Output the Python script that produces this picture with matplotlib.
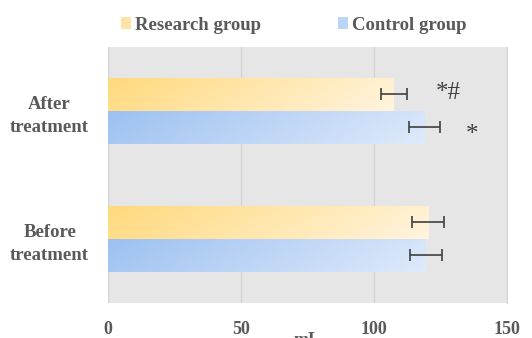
import matplotlib.pyplot as plt
import matplotlib
import numpy as np
from matplotlib.colors import LinearSegmentedColormap
from matplotlib.patches import Patch

matplotlib.rcParams['font.family'] = ['Liberation Serif', 'DejaVu Serif']

categories = ['Before\ntreatment', 'After\ntreatment']
research = [120.4, 107.5]
research_sd = [6.0, 5.0]
control = [119.4, 119.0]
control_sd = [6.0, 5.7]
marks_research = ['', '*#']
marks_control = ['', '*']
xticks = [0, 50, 100, 150]

txt = '#595959'
fig = plt.figure(figsize=(5.32, 3.38), dpi=100)
ax = fig.add_axes([0.203, 0.104, 0.75, 0.757])
ax.set_facecolor('#e6e6e6')

y = np.arange(len(categories))
h = 0.258

cm_res = LinearSegmentedColormap.from_list('res', ['#ffd97c', '#fff4de'])
cm_ctl = LinearSegmentedColormap.from_list('ctl', ['#9cc1f1', '#dfeafb'])

# diagonal gradient, darker at top-left
gx, gy = np.meshgrid(np.linspace(0, 1, 200), np.linspace(0, 1, 40))
grad = 0.85 * gx + 0.15 * gy


def gradient_bars(ypos, vals, cmap):
    bars = ax.barh(ypos, vals, height=h, color='none', edgecolor='none')
    for b in bars:
        x0, y0 = b.get_x(), b.get_y()
        im = ax.imshow(grad, cmap=cmap, aspect='auto', origin='upper',
                       extent=[x0, x0 + b.get_width(), y0, y0 + b.get_height()],
                       zorder=2, vmin=0, vmax=1)
        im.set_clip_path(b)
    return bars


gradient_bars(y + h / 2, research, cm_res)
gradient_bars(y - h / 2, control, cm_ctl)
ax.errorbar(research, y + h / 2, xerr=research_sd, fmt='none', ecolor='#404040',
            elinewidth=1.2, capsize=4, capthick=1.2, zorder=3)
ax.errorbar(control, y - h / 2, xerr=control_sd, fmt='none', ecolor='#404040',
            elinewidth=1.2, capsize=4, capthick=1.2, zorder=3)

for i in range(len(categories)):
    if marks_research[i]:
        ax.text(127.8, y[i] + h / 2 + 0.01, marks_research[i], ha='center', va='center',
                fontsize=18, color='#404040')
    if marks_control[i]:
        ax.text(137.0, y[i] - h / 2 - 0.06, marks_control[i], ha='center', va='center',
                fontsize=18, color='#404040')

ax.set_xlim(0, 150)
ax.set_ylim(-0.5, 1.5)
ax.set_xticks(xticks)
ax.set_xticklabels([str(t) for t in xticks], fontsize=13, fontweight='bold', color=txt)
ax.set_yticks(y)
ax.set_yticklabels(categories, fontsize=13.5, fontweight='bold', color=txt,
                   linespacing=1.45, ha='center')
ax.tick_params(axis='y', length=0, pad=42)
ax.tick_params(axis='x', length=0, pad=13)
ax.xaxis.grid(True, color='#d4d4d4', linewidth=1)
ax.set_axisbelow(True)
for s in ['top', 'left', 'bottom']:
    ax.spines[s].set_visible(False)
ax.spines['right'].set_color('#d4d4d4')

fig.text(0.578, 0.018, 'mL', ha='center', va='top', fontsize=13,
         fontweight='bold', color=txt)

handles = [Patch(facecolor='#ffe3a6'), Patch(facecolor='#bcd5f6')]
fig.legend(handles, ['Research group', 'Control group'], ncol=2, frameon=False,
           loc='center left', bbox_to_anchor=(0.195, 0.926), handlelength=0.55,
           handleheight=0.55, handletextpad=0.2, columnspacing=4.1,
           prop={'size': 13.5, 'weight': 'bold'}, labelcolor=txt)

fig.savefig('out.png', dpi=100)
